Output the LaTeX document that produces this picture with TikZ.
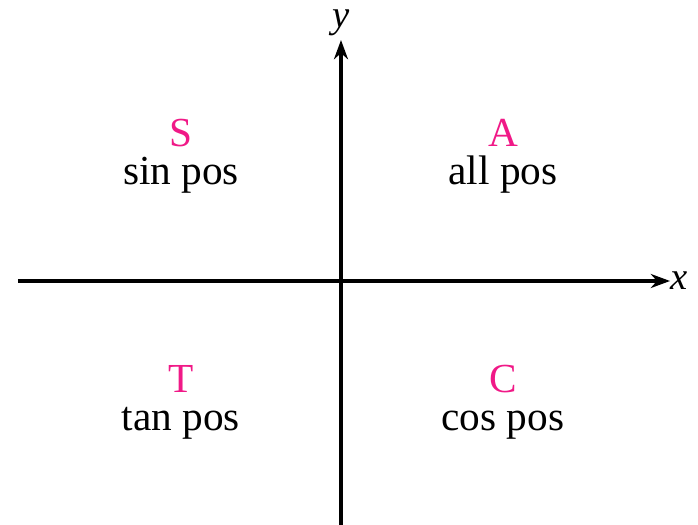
\documentclass[tikz,border=0pt]{standalone}
\usepackage{fontspec}
\setmainfont{Liberation Serif}
\usetikzlibrary{arrows.meta}
\definecolor{quadpink}{RGB}{240,25,135}
\begin{document}
\begin{tikzpicture}[x=0.02cm, y=0.02cm,
    letter/.style={text=quadpink, font=\fontsize{23.5}{28}\selectfont, inner sep=0pt, anchor=base},
    sign/.style={font=\fontsize{23.5}{28}\selectfont, inner sep=0pt, anchor=base},
    axis/.style={-{Stealth[length=11pt, width=8pt]}, line width=1.8pt}
  ]
    \useasboundingbox (-341,-244) rectangle (357,281);
    \coordinate (xl) at (-323,0);
    \coordinate (yb) at (0,-244);
    \node[font=\fontsize{22}{26}\selectfont\itshape, inner sep=0pt] (xlab) at (338,0) {x};
    \node[font=\fontsize{22}{26}\selectfont\itshape, inner sep=0pt] (ylab) at (0,258) {y};
    \draw[axis] (xl) -- (xlab.west);
    \draw[axis] (yb) -- (0,241);
    \node[letter] (s) at (-160,135) {S};
    \node[sign] (sp) at (-160,97) {sin pos};
    \node[letter] (a) at (162,135) {A};
    \node[sign] (ap) at (162,97) {all pos};
    \node[letter] (t) at (-160,-111) {T};
    \node[sign] (tp) at (-160,-149) {tan pos};
    \node[letter] (c) at (162,-111) {C};
    \node[sign] (cp) at (162,-149) {cos pos};
  \end{tikzpicture}
\end{document}
